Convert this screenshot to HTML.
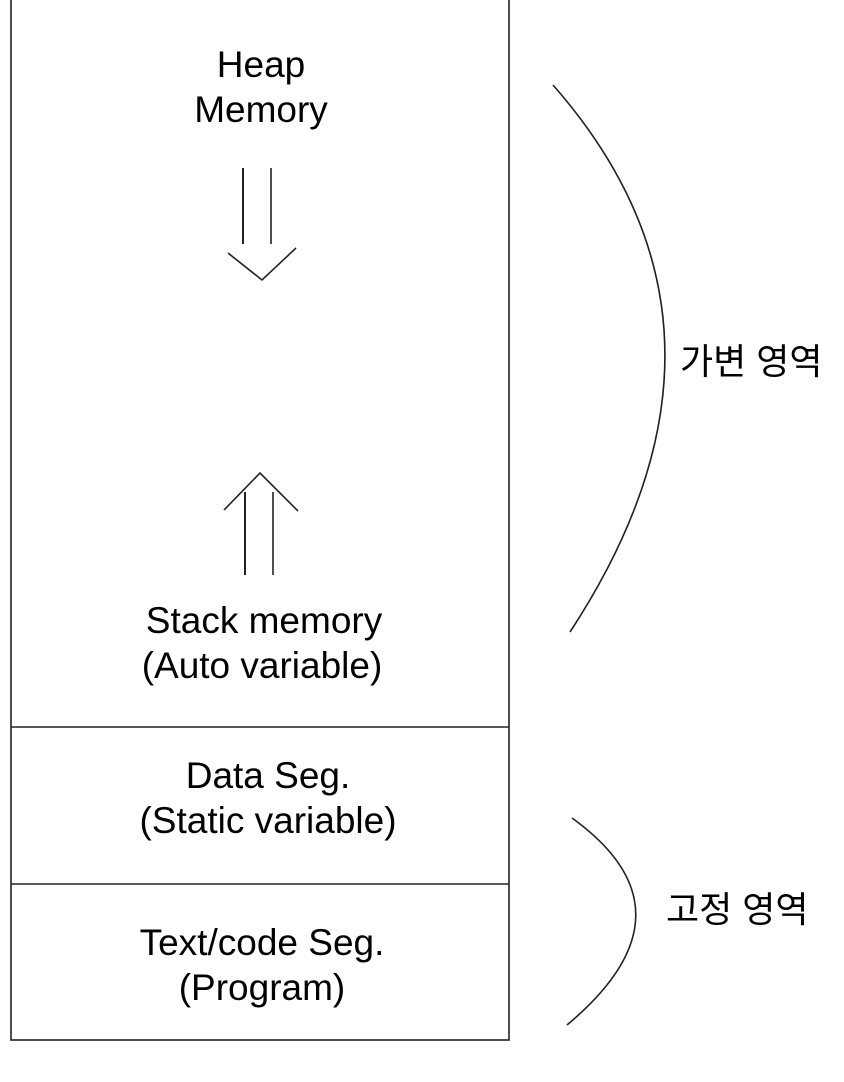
<!DOCTYPE html>
<html><head><meta charset="utf-8"><style>
body{margin:0;background:#fff;}
svg text{font-family:"Liberation Sans","Noto Sans CJK KR",sans-serif;font-size:37px;fill:#000;}
svg text.k{font-size:36px;}
</style></head><body>
<svg width="844" height="1077" viewBox="0 0 844 1077" xmlns="http://www.w3.org/2000/svg">
<g fill="none" stroke="#222" stroke-width="1.6">
<rect x="11" y="-5" width="498" height="1045"/>
<line x1="11" y1="727" x2="509" y2="727"/>
<line x1="11" y1="884" x2="509" y2="884"/>
<line x1="243" y1="168" x2="243" y2="244" stroke-width="2"/>
<line x1="271" y1="168" x2="271" y2="244"/>
<polyline points="228,253 262,280 296,248"/>
<line x1="245" y1="492" x2="245" y2="575" stroke-width="2"/>
<line x1="273" y1="492" x2="273" y2="575"/>
<polyline points="224,510 260,473 298,511"/>
<path d="M553,85 Q768,330 570,632"/>
<path d="M572,818 Q702,912 567,1025"/>
</g>
<g text-anchor="middle">
<text x="261" y="77">Heap</text>
<text x="261" y="122">Memory</text>
<text x="264" y="633">Stack memory</text>
<text x="262" y="678">(Auto variable)</text>
<text x="268" y="788">Data Seg.</text>
<text x="268" y="833">(Static variable)</text>
<text x="262" y="955">Text/code Seg.</text>
<text x="262" y="1000">(Program)</text>
</g>
<text class="k" x="680" y="374">가변 영역</text>
<text class="k" x="666" y="922">고정 영역</text>
</svg>
</body></html>
